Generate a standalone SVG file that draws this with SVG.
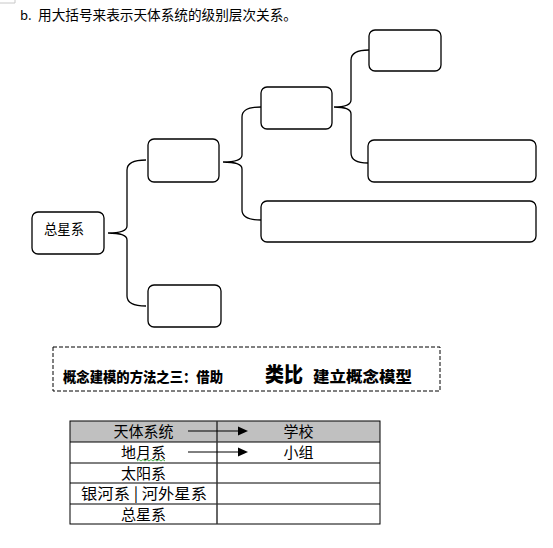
<svg xmlns="http://www.w3.org/2000/svg" width="553" height="548" viewBox="0 0 553 548">
<style>
.box{fill:#fff;stroke:#000;stroke-width:1.3}
.br{fill:none;stroke:#000;stroke-width:1.3}
.t{font-family:"Noto Sans CJK SC","Liberation Sans",sans-serif;fill:#000}
.tb{font-family:"Noto Sans CJK SC","Liberation Serif",serif;font-weight:900;fill:#000}
.grid{stroke:#000;stroke-width:1;fill:none}
</style>
<rect width="553" height="548" fill="#fff"/>
<path d="M15,0 V3 H0" fill="none" stroke="#c8c8c8" stroke-width="1"/>
<text class="t" x="20" y="20" font-size="13">b.</text>
<text class="t" x="38" y="20" font-size="13.5" textLength="259" lengthAdjust="spacingAndGlyphs">用大括号来表示天体系统的级别层次关系。</text>

<g id="connectors">
<path class="br" d="M146,160 Q127,160 127,170 L127,226 Q127,233 108,233 Q127,233 127,240 L127,296 Q127,306 146,306"/>
<path class="br" d="M261,107 Q242,107 242,117 L242,155 Q242,162 223,162 Q242,162 242,169 L242,210 Q242,220 261,220"/>
<path class="br" d="M369,50 Q351,50 351,60 L351,100 Q351,107 334,107 Q351,107 351,114 L351,153 Q351,163 368,163"/>
</g>

<g id="n1"><rect class="box" x="32" y="212" width="72" height="42" rx="6"/>
<text class="t" x="44" y="234" font-size="13.5" textLength="40" lengthAdjust="spacingAndGlyphs">总星系</text></g>
<g id="n2"><rect class="box" x="148" y="139" width="71" height="43" rx="6"/></g>
<g id="n3"><rect class="box" x="148" y="285" width="73" height="42" rx="6"/></g>
<g id="n4"><rect class="box" x="261" y="87" width="71" height="42" rx="6"/></g>
<g id="n5"><rect class="box" x="369" y="30" width="72" height="41" rx="6"/></g>
<g id="n6"><rect class="box" x="368" y="140" width="168" height="42" rx="6"/></g>
<g id="n7"><rect class="box" x="261" y="201" width="275" height="41" rx="6"/></g>

<g id="method">
<rect x="53" y="347" width="387" height="44" fill="none" stroke="#000" stroke-width="1" stroke-dasharray="4 2"/>
<text class="tb" x="63" y="382" font-size="14" textLength="160" lengthAdjust="spacingAndGlyphs">概念建模的方法之三：借助</text>
<text class="tb" x="265" y="382" font-size="20" textLength="38" lengthAdjust="spacingAndGlyphs">类比</text>
<text class="tb" x="313" y="382" font-size="14.5" textLength="99" lengthAdjust="spacingAndGlyphs">建立概念模型</text>
</g>

<g id="table">
<rect x="70" y="421" width="310" height="21" fill="#c0c0c0"/>
<rect class="grid" x="70" y="421" width="310" height="103"/>
<line class="grid" x1="70" y1="442" x2="380" y2="442"/>
<line class="grid" x1="70" y1="463" x2="380" y2="463"/>
<line class="grid" x1="70" y1="483" x2="380" y2="483"/>
<line class="grid" x1="70" y1="504" x2="380" y2="504"/>
<line x1="217" y1="421" x2="217" y2="524" stroke="#333" stroke-width="1.5"/>
<text class="t" x="143.5" y="437" font-size="15" text-anchor="middle">天体系统</text>
<text class="t" x="298.5" y="437" font-size="15" text-anchor="middle">学校</text>
<text class="t" x="143.5" y="458" font-size="15" text-anchor="middle">地月系</text>
<text class="t" x="298.5" y="458" font-size="15" text-anchor="middle">小组</text>
<text class="t" x="143.5" y="478.5" font-size="15" text-anchor="middle">太阳系</text>
<text class="t" x="81" y="499" font-size="15" textLength="126" lengthAdjust="spacingAndGlyphs">银河系 | 河外星系</text>
<text class="t" x="143.5" y="519.5" font-size="15" text-anchor="middle">总星系</text>
<path d="M137,461 l2,-1.5 l2,1.5 l2,-1.5 l2,1.5 l2,-1.5 l2,1.5 l2,-1.5 l2,1.5 l2,-1.5 l2,1.5 l2,-1.5 l2,1.5 l2,-1.5 l2,1.5" fill="none" stroke="#4caf50" stroke-width="1"/>
<line x1="188" y1="431" x2="239" y2="431" stroke="#000" stroke-width="1"/>
<polygon points="238,426.5 248,431 238,435.5" fill="#000"/>
<line x1="188" y1="452" x2="239" y2="452" stroke="#000" stroke-width="1"/>
<polygon points="238,447.5 248,452 238,456.5" fill="#000"/>
</g>
</svg>
